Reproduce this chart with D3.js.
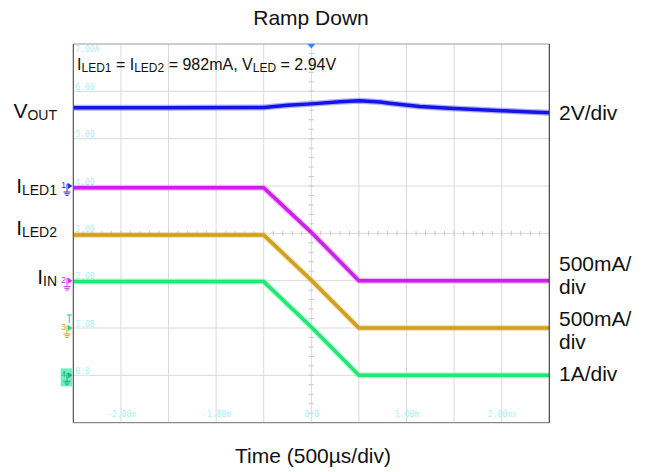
<!DOCTYPE html>
<html>
<head>
<meta charset="utf-8">
<script src="https://cdn.jsdelivr.net/npm/d3@7"></script>
<style>
  body { margin: 0; background: #fff; }
  svg { display: block; }
</style>
</head>
<body>
<svg id="scope" width="651" height="472"></svg>
<script>
// ---- time base: 500 µs/div, 10 divisions, trigger at 0 ----
const timeDomain = [-2.5, 2.5];              // ms
const timeGrid = [-2, -1.5, -1, -0.5, 0, 0.5, 1, 1.5, 2];
const timeLabelValues = [-2, -1, 0, 1, 2];
const timeLabels = ["-2.00m", "-1.00m", "0.0", "1.00m", "2.00ms"];

// ---- vertical: 8 divisions, level readout on each gridline ----
const divDomain = [-4, 4];
const divGrid = [-3, -2, -1, 0, 1, 2, 3];
const levelLabelDivs = [4, 3, 2, 1, 0, -1, -2, -3];
const levelLabels = ["7.00A", "6.00", "5.00", "4.00", "3.00", "2.00", "1.00", "0.0"];

// ---- captured waveforms ----
const voutTime = [-2.5, -1.5, -0.5, -0.25, 0, 0.3, 0.5, 0.72, 0.82, 1.14, 1.45, 2.0, 2.5];
const voutV    = [3.31, 3.31, 3.32, 3.41, 3.47, 3.56, 3.60, 3.55, 3.50, 3.36, 3.29, 3.18, 3.10];

const iled1Time = [-2.5, -0.5, 0, 0.5, 2.5];
const iled1A    = [0.982, 0.982, 0.51, 0, 0];

const iled2Time = [-2.5, -0.5, 0, 0.5, 2.5];
const iled2A    = [0.982, 0.982, 0.505, 0, 0];

const iinTime = [-2.5, -0.5, 0, 0.5, 2.5];
const iinA    = [1.98, 1.98, 1.02, 0, 0];

// channel setup: units per division and ground reference (divisions from centre)
const channels = [
  { id: "1", t: voutTime,  v: voutV,  perDiv: 2,   ground: 1,  color: "#1414e8", halo: "#7070f2", marker: "#2a2ae0" },
  { id: "2", t: iled1Time, v: iled1A, perDiv: 0.5, ground: -1, color: "#cc1fea", halo: "#e184f3", marker: "#d030f0" },
  { id: "3", t: iled2Time, v: iled2A, perDiv: 0.5, ground: -2, color: "#cf9f1f", halo: "#e4c672", marker: "#d0a020" },
  { id: "4", t: iinTime,   v: iinA,   perDiv: 1,   ground: -3, color: "#1fe873", halo: "#86f2b0", marker: "#20b070" }
];

const svg = d3.select("#scope");
const L = 73.33, R = 549.33, T = 44, B = 422.67;

const x = d3.scaleLinear().domain(timeDomain).range([L, R]);
const y = d3.scaleLinear().domain(divDomain).range([B, T]);

const FONT = "'Liberation Sans', Arial, sans-serif";
const MONO = "'DejaVu Sans Mono', monospace";

// ---- graticule ----
const grid = svg.append("g").attr("stroke", "#dadada").attr("stroke-width", 1);
grid.selectAll(".vg").data(timeGrid).join("line")
  .attr("x1", d => x(d)).attr("x2", d => x(d)).attr("y1", T).attr("y2", B);
grid.selectAll(".hg").data(divGrid).join("line")
  .attr("y1", d => y(d)).attr("y2", d => y(d)).attr("x1", L).attr("x2", R);

// minor ticks on the centre cross
const minorT = d3.range(-25, 26).map(i => i * 0.1).filter(d => Math.abs(d) > 1e-9);
const minorD = d3.range(-20, 21).map(i => i * 0.2).filter(d => Math.abs(d) > 1e-9);
const ticks = svg.append("g").attr("stroke", "#c8c8c8").attr("stroke-width", 1);
ticks.selectAll(".mt").data(minorT).join("line")
  .attr("x1", d => x(d)).attr("x2", d => x(d))
  .attr("y1", y(0) - 2.5).attr("y2", y(0) + 2.5);
ticks.selectAll(".md").data(minorD).join("line")
  .attr("y1", d => y(d)).attr("y2", d => y(d))
  .attr("x1", x(0) - 2.5).attr("x2", x(0) + 2.5);

// level readouts (faint cyan)
const readout = svg.append("g")
  .attr("fill", "#a8f0fa").attr("font-family", MONO).attr("font-size", 8);
readout.selectAll("text").data(levelLabelDivs).join("text")
  .attr("x", L + 2)
  .attr("y", (d, i) => i === 0 ? y(d) + 8 : y(d) - 1.5)
  .text((d, i) => levelLabels[i]);

// time readouts along the bottom
const xAxis = d3.axisBottom(x)
  .tickValues(timeLabelValues)
  .tickFormat((d, i) => timeLabels[i])
  .tickSize(0).tickPadding(0);
const xg = svg.append("g").attr("transform", `translate(0,${B - 7})`).call(xAxis);
xg.select(".domain").remove();
xg.selectAll("text").attr("fill", "#a8f0fa").attr("font-family", MONO).attr("font-size", 8).attr("dy", "0.15em");

// ---- traces ----
svg.append("clipPath").attr("id", "plotClip")
  .append("rect").attr("x", L).attr("y", T).attr("width", R - L).attr("height", B - T);
const traces = svg.append("g").attr("clip-path", "url(#plotClip)");

channels.forEach(ch => {
  const pts = ch.t.map((t, i) => [t, ch.v[i]]);
  const line = d3.line()
    .x(d => x(d[0]))
    .y(d => y(ch.ground + d[1] / ch.perDiv));
  traces.append("path").attr("d", line(pts)).attr("fill", "none")
    .attr("stroke", ch.halo).attr("stroke-width", 6).attr("stroke-opacity", 0.55)
    .attr("stroke-linejoin", "round");
  traces.append("path").attr("d", line(pts)).attr("fill", "none")
    .attr("stroke", ch.color).attr("stroke-width", 3.5)
    .attr("stroke-linejoin", "round");
});

// ---- frame ----
const frame = svg.append("g").attr("stroke-width", 1.2);
frame.append("line").attr("x1", L).attr("x2", R).attr("y1", T).attr("y2", T).attr("stroke", "#9a9a9a");
frame.append("line").attr("x1", L).attr("x2", R).attr("y1", B).attr("y2", B).attr("stroke", "#8a8a8a");
frame.append("line").attr("x1", L).attr("x2", L).attr("y1", T).attr("y2", B).attr("stroke", "#555");
frame.append("line").attr("x1", R).attr("x2", R).attr("y1", T).attr("y2", B).attr("stroke", "#444");

// trigger position marker
svg.append("path")
  .attr("d", `M${x(0) - 4},${T} L${x(0) + 4},${T} L${x(0)},${T + 4.5} Z`)
  .attr("fill", "#2a8cf0");

// ---- channel ground markers ----
function groundMarker(ch, arrowColor) {
  const gy = y(ch.ground);
  const g = svg.append("g");
  g.append("text").attr("x", 61.3).attr("y", gy + 2)
    .attr("font-family", FONT).attr("font-size", 8.5).attr("fill", ch.marker).text(ch.id);
  g.append("path")
    .attr("d", `M67,${gy + 6} V${gy - 2} H68`)
    .attr("stroke", ch.marker).attr("fill", "none").attr("stroke-width", 1);
  g.append("path")
    .attr("d", `M68,${gy - 3} L72.5,${gy} L68,${gy + 3} Z`)
    .attr("fill", arrowColor || ch.marker);
  [[7, 6], [5, 7.7], [3, 9.4]].forEach(([w, dy]) => {
    g.append("line").attr("x1", 67 - w / 2).attr("x2", 67 + w / 2)
      .attr("y1", gy + dy).attr("y2", gy + dy)
      .attr("stroke", ch.marker).attr("stroke-width", 1);
  });
  return g;
}
// channel 4 sits in a highlighted box
const c4y = y(channels[3].ground);
svg.append("rect").attr("x", 60.7).attr("y", c4y - 7).attr("width", 11.6).attr("height", 18)
  .attr("fill", "#74ecc4");
groundMarker(channels[0]);
groundMarker(channels[1]);
groundMarker(channels[2], "#22dd66");
groundMarker(channels[3]);
// trigger level marker
const c3y = y(channels[2].ground);
svg.append("path")
  .attr("d", `M66.5,${c3y - 13} H72 M69.25,${c3y - 13} V${c3y - 5}`)
  .attr("stroke", "#22dd66").attr("stroke-width", 1).attr("fill", "none");

// ---- text ----
function subText(sel, parts, mainSize, subSize) {
  parts.forEach(([txt, sub], i) => {
    sel.append("tspan").attr("font-size", mainSize)
      .attr("dy", i > 0 && parts[i - 1][1] ? -2 : 0).text(txt);
    if (sub) sel.append("tspan").attr("font-size", subSize).attr("dy", 2).text(sub);
  });
}

svg.append("text").attr("x", 311).attr("y", 25).attr("text-anchor", "middle")
  .attr("font-family", FONT).attr("font-size", 21).attr("fill", "#111").text("Ramp Down");

svg.append("text").attr("x", 313).attr("y", 463).attr("text-anchor", "middle")
  .attr("font-family", FONT).attr("font-size", 21).attr("fill", "#111").text("Time (500µs/div)");

const note = svg.append("text").attr("x", 77).attr("y", 70)
  .attr("font-family", FONT).attr("fill", "#111");
subText(note, [["I", "LED1"], [" = I", "LED2"], [" = 982mA, V", "LED"], [" = 2.94V", null]], 16, 12);

const leftLabels = [
  { parts: [["V", "OUT"]], y: 118 },
  { parts: [["I", "LED1"]], y: 193 },
  { parts: [["I", "LED2"]], y: 235 },
  { parts: [["I", "IN"]], y: 284 }
];
leftLabels.forEach(d => {
  const t = svg.append("text").attr("x", 57).attr("y", d.y).attr("text-anchor", "end")
    .attr("font-family", FONT).attr("fill", "#111");
  subText(t, d.parts, 21, 14);
});

const rightLabels = [
  { text: "2V/div", y: 120 },
  { text: "500mA/", y: 271 },
  { text: "div", y: 294 },
  { text: "500mA/", y: 326 },
  { text: "div", y: 349 },
  { text: "1A/div", y: 381 }
];
svg.append("g").selectAll("text").data(rightLabels).join("text")
  .attr("x", 559).attr("y", d => d.y)
  .attr("font-family", FONT).attr("font-size", 21).attr("fill", "#111")
  .text(d => d.text);
</script>
</body>
</html>
